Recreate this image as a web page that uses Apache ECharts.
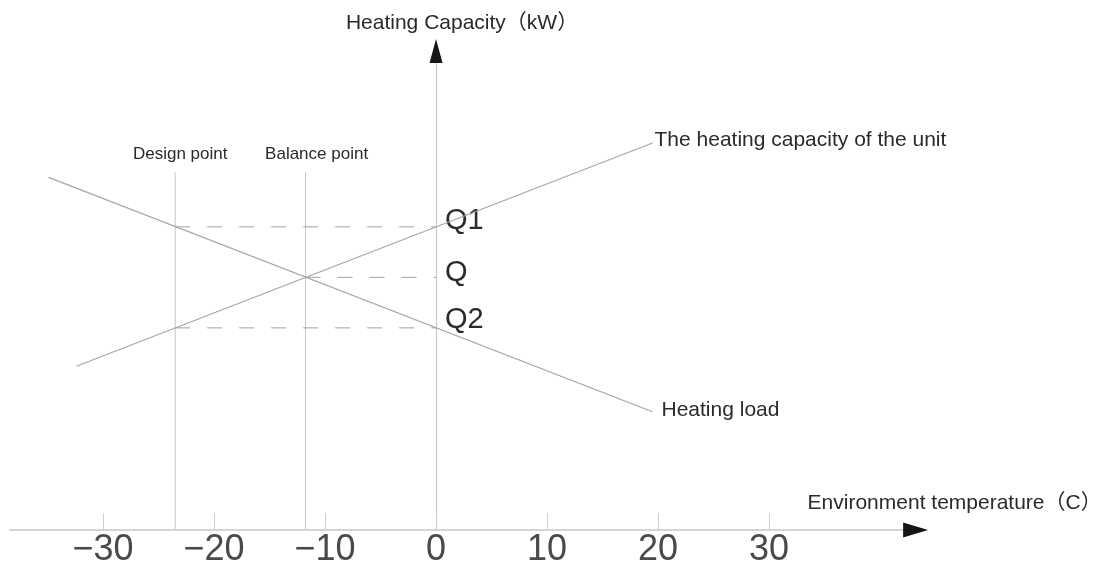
<!DOCTYPE html>
<html>
<head>
<meta charset="utf-8">
<script src="https://cdn.jsdelivr.net/npm/echarts@6/dist/echarts.min.js"></script>
<style>
html,body{margin:0;padding:0;background:#fff;}
#c{width:1103px;height:570px;}
</style>
</head>
<body>
<div id="c"></div>
<script>
// ---- data ----
const xTicks = [-30, -20, -10, 0, 10, 20, 30];
const capacityX = [-32.4, 19.5];
const capacityY = [16.2, 38.3];
const loadX = [-34.9, 19.5];
const loadY = [34.9, 11.7];
const designT = -23.5;
const balanceT = -11.75;
const qNames = ['Q1', 'Q', 'Q2'];
const qValues = [30, 25, 20];
const qStartT = [designT, balanceT, designT];

// ---- layout / style config ----
const xMin = -38.4, xMax = 43.2, yMax = 47.4, refTop = 35.4;
const textFont = "'Liberation Sans', Arial, 'Noto Sans CJK SC', sans-serif";
const narrowFont = "'Liberation Sans Narrow', 'Liberation Sans', Arial, sans-serif";
const qOffsets = [-6, -4, -8];

const chart = echarts.init(document.getElementById('c'), null, {renderer: 'canvas'});

const zip = (xs, ys) => xs.map((x, i) => [x, ys[i]]);

const series = [];
series.push({
  type: 'line', name: 'capacity', data: zip(capacityX, capacityY),
  symbol: 'none', lineStyle: {color: '#a6a6a6', width: 1.2}, z: 3,
  endLabel: {show: true, formatter: 'The heating capacity of the unit', color: '#2a2a2a',
             fontSize: 21, fontFamily: textFont, distance: 2, offset: [0, -3]},
  markPoint: {
    symbol: 'triangle', label: {show: false}, itemStyle: {color: '#151515'},
    data: [
      {coord: [0, yMax], symbolSize: [13, 24]},
      {coord: [xMax, 0], symbolSize: [15, 25], symbolRotate: -90}
    ]
  }
});
series.push({
  type: 'line', name: 'load', data: zip(loadX, loadY),
  symbol: 'none', lineStyle: {color: '#a6a6a6', width: 1.2}, z: 3,
  endLabel: {show: true, formatter: 'Heating load', color: '#2a2a2a',
             fontSize: 21, fontFamily: textFont, distance: 9, offset: [0, -2]}
});
[[designT, 'Design point', 5], [balanceT, 'Balance point', 11]].forEach(([t, name, dx]) => {
  series.push({
    type: 'line', data: [[t, 0], {value: [t, refTop], label: {show: true}}],
    symbol: 'circle', symbolSize: 0, showSymbol: true,
    lineStyle: {color: '#c4c4c4', width: 1}, z: 2,
    label: {show: false, position: 'top', formatter: name, color: '#2a2a2a', fontSize: 17,
            fontFamily: narrowFont, distance: 9, offset: [dx, 0]}
  });
});
qNames.forEach((n, i) => {
  series.push({
    type: 'line', data: [[qStartT[i], qValues[i]], [0, qValues[i]]],
    symbol: 'none', lineStyle: {color: '#a0a0a0', width: 1, type: [15, 17]}, z: 2,
    endLabel: {show: true, formatter: n, color: '#2a2a2a', fontSize: 29,
               fontFamily: textFont, distance: 9, offset: [0, qOffsets[i]]}
  });
});

chart.setOption({
  animation: false,
  backgroundColor: '#fff',
  grid: {left: 9.76, right: 187.4, top: 51, bottom: 40, containLabel: false, outerBoundsMode: 'none'},
  xAxis: {
    type: 'value', min: xMin, max: xMax,
    name: 'Environment temperature（C）', nameLocation: 'end', nameGap: -108,
    nameTextStyle: {color: '#2a2a2a', fontSize: 21, fontFamily: textFont, align: 'left',
                    verticalAlign: 'bottom', padding: [0, 0, 16, 0]},
    axisLine: {show: true, lineStyle: {color: '#c8c8c8', width: 1.5}},
    axisTick: {show: true, inside: true, length: 17, customValues: xTicks,
               lineStyle: {color: '#cfcfcf', width: 1}},
    axisLabel: {show: true, customValues: xTicks, margin: 2, color: '#4a4a4a', fontSize: 36,
                fontFamily: narrowFont,
                formatter: v => v < 0 ? '\u2212' + (-v) : String(v)},
    splitLine: {show: false}
  },
  yAxis: {
    type: 'value', min: 0, max: yMax,
    name: 'Heating Capacity（kW）', nameLocation: 'end', nameGap: 28,
    nameTextStyle: {color: '#2a2a2a', fontSize: 21, fontFamily: textFont, align: 'center',
                    verticalAlign: 'middle', padding: [0, 0, 0, 52]},
    axisLine: {show: true, onZero: true, lineStyle: {color: '#c8c8c8', width: 1.2}},
    axisTick: {show: false},
    axisLabel: {show: false},
    splitLine: {show: false}
  },
  series: series
});
</script>
</body>
</html>
